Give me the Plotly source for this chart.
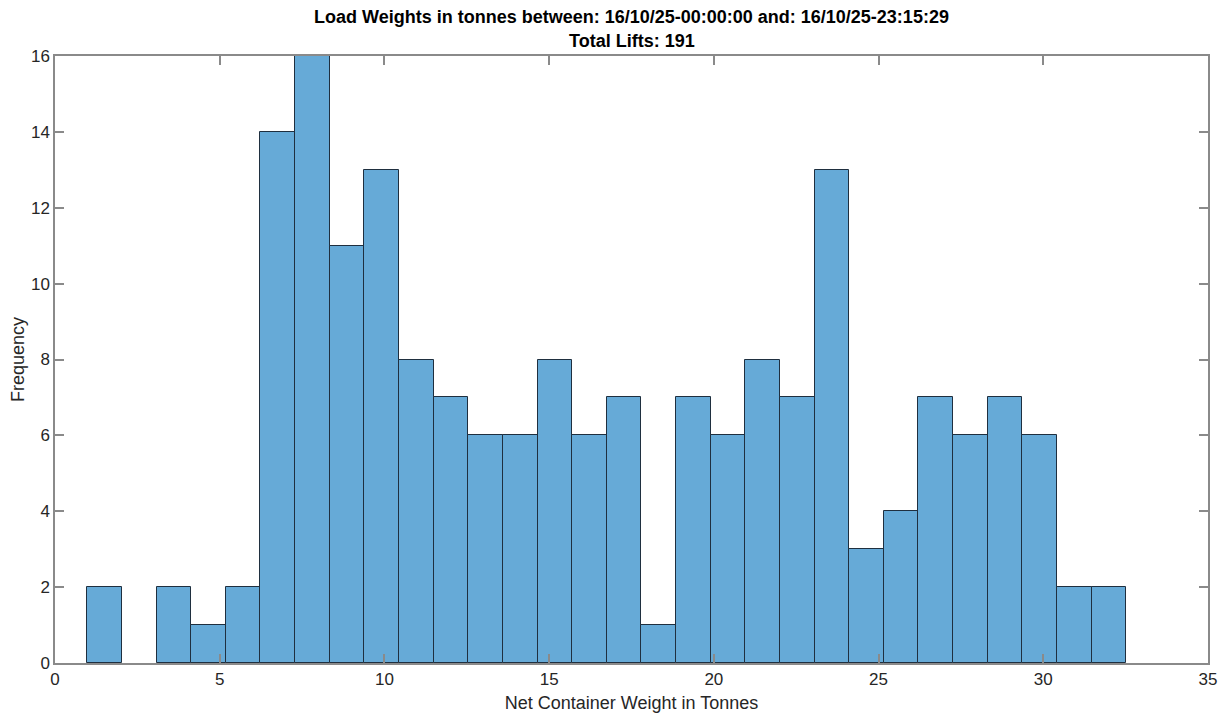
import plotly.graph_objects as go

# histogram bin counts
bin_start = 0.98
bin_width = 1.0513
counts = [2, None, 2, 1, 2, 14, 16, 11, 13, 8, 7, 6, 6, 8, 6,
          7, 1, 7, 6, 8, 7, 13, 3, 4, 7, 6, 7, 6, 2, 2]
centers = [bin_start + bin_width * (i + 0.5) for i in range(len(counts))]

x_ticks = [0, 5, 10, 15, 20, 25, 30, 35]
y_ticks = [0, 2, 4, 6, 8, 10, 12, 14, 16]

title_1 = "Load Weights in tonnes between: 16/10/25-00:00:00 and: 16/10/25-23:15:29"
title_2 = "Total Lifts: 191"

font = "Liberation Sans, Arial, sans-serif"
axis_col = "#8a8a8a"
text_col = "#262626"

fig = go.Figure()
fig.add_trace(go.Bar(
    x=centers,
    y=counts,
    width=bin_width,
    marker=dict(color="#66aad7", line=dict(color="#1f2f3f", width=1)),
    showlegend=False,
))

# page body has an 8px margin, so the figure is a bit smaller than the window
fig.update_layout(
    width=1220, height=706,
    paper_bgcolor="white", plot_bgcolor="white",
    margin=dict(l=47, r=20, t=48, b=51, autoexpand=False),
    bargap=0,
    font=dict(family=font, size=17, color=text_col),
)

for txt, shift in [(title_1, 39), (title_2, 15)]:
    fig.add_annotation(
        text="<b>" + txt + "</b>", x=0.5, xref="paper", y=1, yref="paper",
        xanchor="center", yanchor="middle", yshift=shift, showarrow=False,
        font=dict(family=font, size=18, color="black"),
    )

fig.update_xaxes(
    range=[0, 35], tickvals=x_ticks,
    showgrid=False, zeroline=False,
    showline=True, linecolor=axis_col, linewidth=1.5, mirror="allticks",
    ticks="inside", ticklen=9, tickcolor=axis_col, tickwidth=1.5,
    tickfont=dict(size=17, color=text_col),
    title=dict(text="Net Container Weight in Tonnes", font=dict(size=18, color=text_col), standoff=8),
)
fig.update_yaxes(
    range=[0, 16], tickvals=y_ticks,
    showgrid=False, zeroline=False,
    showline=True, linecolor=axis_col, linewidth=1.5, mirror="allticks",
    ticks="inside", ticklen=9, tickcolor=axis_col, tickwidth=1.5,
    tickfont=dict(size=17, color=text_col),
    title=dict(text="Frequency", font=dict(size=18, color=text_col), standoff=8),
)

fig.write_html("out.html")
